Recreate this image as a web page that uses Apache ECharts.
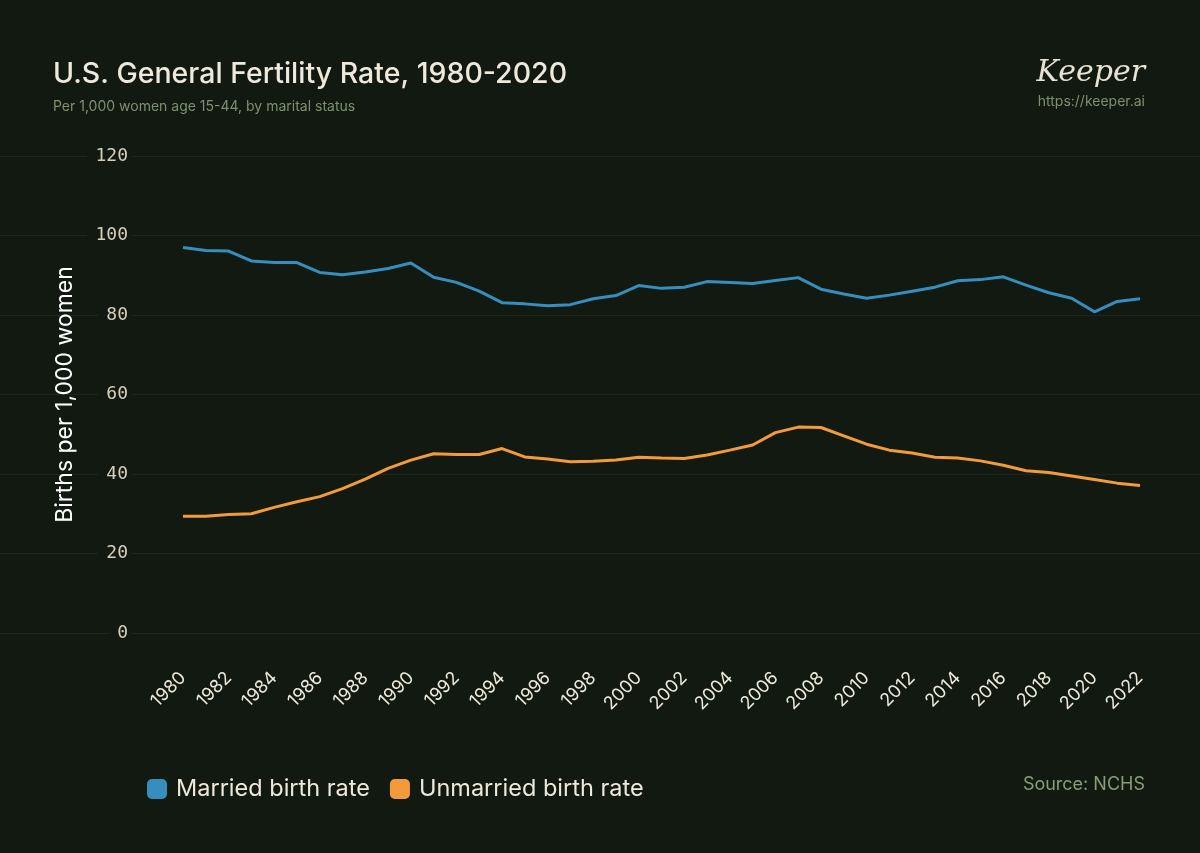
<!DOCTYPE html>
<html>
<head>
<meta charset="utf-8">
<script src="https://cdn.jsdelivr.net/npm/echarts@6/dist/echarts.min.js"></script>
<style>
  html, body { margin: 0; padding: 0; background: #111910; }
  #chart { width: 1200px; height: 853px; }
</style>
</head>
<body>
<div id="chart"></div>
<script>
// 数据：1980-2022 每年
var years = [];
for (var y = 1980; y <= 2022; y++) years.push(String(y));

var married = [97.0, 96.2, 96.1, 93.6, 93.2, 93.2, 90.7, 90.1, 90.8, 91.7,
  93.1, 89.5, 88.2, 86.0, 83.1, 82.8, 82.3, 82.6, 84.1, 84.9,
  87.4, 86.7, 87.0, 88.4, 88.2, 87.9, 88.7, 89.4, 86.5, 85.3,
  84.2, 85.0, 86.0, 87.0, 88.6, 88.9, 89.6, 87.5, 85.6, 84.2,
  80.8, 83.4, 84.1];

var unmarried = [29.4, 29.4, 29.8, 30.0, 31.6, 33.0, 34.3, 36.3, 38.7, 41.4,
  43.5, 45.1, 44.9, 44.9, 46.4, 44.3, 43.8, 43.1, 43.2, 43.5,
  44.2, 44.0, 43.9, 44.8, 46.0, 47.3, 50.4, 51.8, 51.7, 49.6,
  47.5, 46.0, 45.3, 44.2, 44.0, 43.3, 42.2, 40.8, 40.4, 39.5,
  38.6, 37.7, 37.1];

var bg = '#111910';
var cream = '#efe9dc';
var muted = '#7d9171';

var chart = echarts.init(document.getElementById('chart'));

var option = {
  backgroundColor: bg,
  animation: false,
  title: [
    {
      text: 'U.S. General Fertility Rate, 1980-2020',
      left: 48, top: 55,
      textStyle: { color: cream, fontFamily: 'Inter', fontWeight: 500, fontSize: 28.5 }
    },
    {
      text: 'Per 1,000 women age 15-44, by marital status',
      left: 48, top: 95,
      textStyle: { color: muted, fontFamily: 'Inter', fontWeight: 400, fontSize: 14 }
    }
  ],
  legend: {
    left: 142, top: 772,
    itemWidth: 20, itemHeight: 20, itemGap: 20,
    icon: 'roundRect',
    textStyle: { color: cream, fontFamily: 'Inter', fontSize: 23.5, padding: [0, 0, 0, 4] },
    data: ['Married birth rate', 'Unmarried birth rate']
  },
  grid: [
    // 主图
    { left: 183, right: 60, top: 156, bottom: 220 },
    // 全宽网格线
    { left: 0, right: 0, top: 156, bottom: 220 }
  ],
  xAxis: [
    {
      type: 'category', gridIndex: 0, data: years, boundaryGap: false,
      axisLine: { show: false }, axisTick: { show: false },
      axisLabel: {
        interval: 1, rotate: 45, margin: 42,
        color: cream, fontFamily: 'Inter', fontSize: 18
      }
    },
    { type: 'value', gridIndex: 1, show: false, min: 0, max: 1 }
  ],
  yAxis: [
    {
      type: 'value', gridIndex: 0, min: 0, max: 120, interval: 20, z: 5,
      name: 'Births per 1,000 women', nameLocation: 'middle', nameRotate: 90, nameGap: 106,
      nameTextStyle: { color: '#ffffff', fontFamily: 'Inter', fontSize: 23 },
      splitLine: { show: false }, axisLine: { show: false }, axisTick: { show: false },
      axisLabel: {
        margin: 51, color: '#d8cfba', fontFamily: 'DejaVu Sans Mono', fontSize: 18,
        backgroundColor: bg, padding: [2, 4, 2, 8]
      }
    },
    {
      type: 'value', gridIndex: 1, min: 0, max: 120, interval: 20, z: 0,
      axisLabel: { show: false }, axisLine: { show: false }, axisTick: { show: false },
      splitLine: { lineStyle: { color: '#1d281c', width: 1 } }
    }
  ],
  series: [
    {
      name: 'Married birth rate', type: 'line', data: married,
      xAxisIndex: 0, yAxisIndex: 0,
      showSymbol: false, color: '#368ebf',
      lineStyle: { width: 3 }, z: 3
    },
    {
      name: 'Unmarried birth rate', type: 'line', data: unmarried,
      xAxisIndex: 0, yAxisIndex: 0,
      showSymbol: false, color: '#f39b3b',
      lineStyle: { width: 3 }, z: 3
    }
  ],
  graphic: [
    {
      type: 'text', right: 55, top: 58,
      style: {
        text: 'Keeper', fill: '#e8e2d3',
        font: 'italic 300 30px "DejaVu Serif", serif'
      }
    },
    {
      type: 'text', right: 55, top: 95,
      style: { text: 'https://keeper.ai', fill: muted, font: '14px Inter' }
    },
    {
      type: 'text', right: 55, top: 776,
      style: { text: 'Source: NCHS', fill: '#889d7a', font: '18px Inter' }
    }
  ]
};

chart.setOption(option);
</script>
</body>
</html>
